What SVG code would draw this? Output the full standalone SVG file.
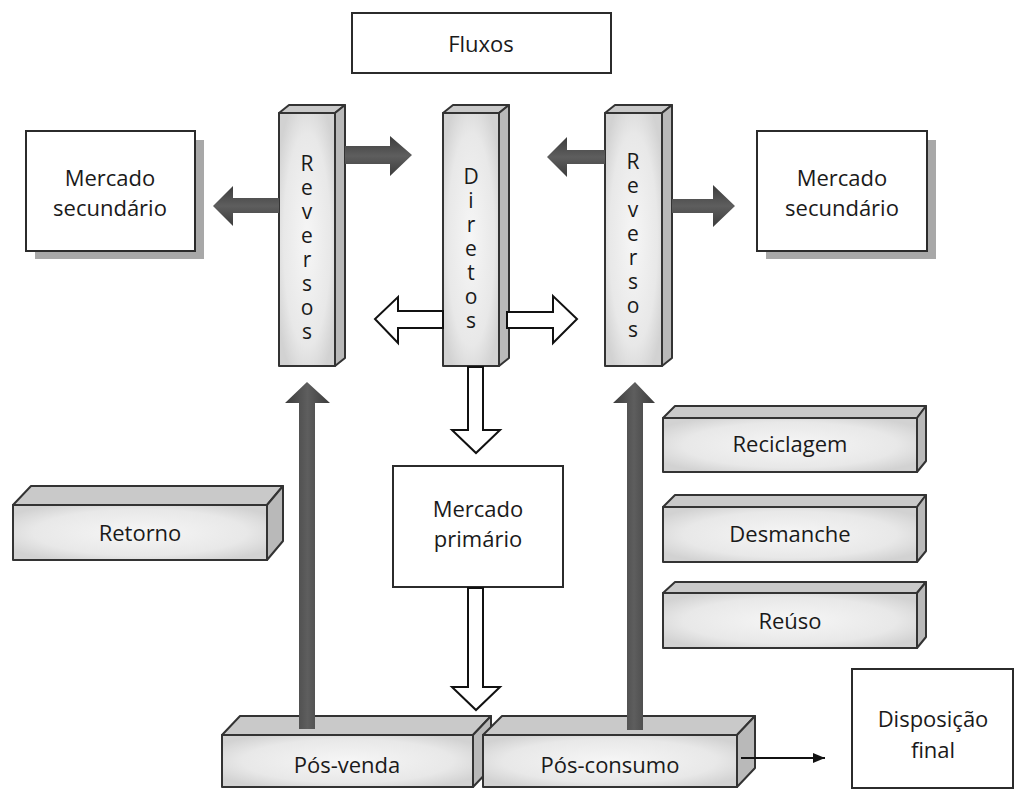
<svg xmlns="http://www.w3.org/2000/svg" width="1016" height="792" viewBox="0 0 1016 792">
<defs>
<radialGradient id="face" cx="0.5" cy="0.5" r="0.6">
<stop offset="0" stop-color="#f6f6f6"/>
<stop offset="0.7" stop-color="#e8e8e8"/>
<stop offset="1" stop-color="#d2d2d2"/>
</radialGradient>
<linearGradient id="darkH" x1="0" y1="0" x2="0" y2="1">
<stop offset="0" stop-color="#3c3c3c"/>
<stop offset="0.5" stop-color="#5e5e5e"/>
<stop offset="1" stop-color="#3c3c3c"/>
</linearGradient>
<linearGradient id="darkV" x1="0" y1="0" x2="1" y2="0">
<stop offset="0" stop-color="#3c3c3c"/>
<stop offset="0.5" stop-color="#5e5e5e"/>
<stop offset="1" stop-color="#3c3c3c"/>
</linearGradient>
<marker id="thin" viewBox="0 0 12 10" refX="12" refY="5" markerWidth="12" markerHeight="10" markerUnits="userSpaceOnUse" orient="auto">
<path d="M0,0 L12,5 L0,10 Z" fill="#111"/>
</marker>
</defs>
<style>
.box{fill:#fff;stroke:#2b2b2b;stroke-width:2}
.shadow{fill:#a8a8a8}
.front{fill:url(#face);stroke:#333;stroke-width:2;stroke-linejoin:round}
.top{fill:#c9c9c9;stroke:#333;stroke-width:2;stroke-linejoin:round}
.side{fill:#b9b9b9;stroke:#333;stroke-width:2;stroke-linejoin:round}
.t{font-family:"Open Sans","Noto Sans",sans-serif;font-size:22px;fill:#1a1a1a;text-anchor:middle}
.v{font-family:"Open Sans","Noto Sans",sans-serif;font-size:21px;fill:#1a1a1a;text-anchor:middle;writing-mode:vertical-rl;text-orientation:upright;letter-spacing:-4px}
.darkh{fill:url(#darkH)}
.darkv{fill:url(#darkV)}
.hollow{fill:#fff;stroke:#111;stroke-width:2;stroke-linejoin:miter}
</style>
<rect width="1016" height="792" fill="#fff"/>

<g id="fluxos">
<rect class="box" x="352" y="13" width="259" height="60"/>
<text class="t" x="481" y="52">Fluxos</text>
</g>

<g id="mercado-secundario-esq">
<rect class="shadow" x="35" y="140" width="169" height="119"/>
<rect class="box" x="26" y="131" width="169" height="120"/>
<text class="t" x="110" y="186">Mercado</text>
<text class="t" x="110" y="216">secundário</text>
</g>

<g id="mercado-secundario-dir">
<rect class="shadow" x="766" y="140" width="170" height="119"/>
<rect class="box" x="757" y="131" width="170" height="120"/>
<text class="t" x="842" y="186">Mercado</text>
<text class="t" x="842" y="216">secundário</text>
</g>

<g id="reversos-esq">
<polygon class="top" points="279,113 289,105 345,105 335,113"/>
<polygon class="side" points="335,113 345,105 345,358 335,366"/>
<rect class="front" x="279" y="113" width="56" height="253"/>
<text class="v" x="307" y="245">Reversos</text>
</g>

<g id="diretos">
<polygon class="top" points="443,113 453,105 509,105 499,113"/>
<polygon class="side" points="499,113 509,105 509,358 499,366"/>
<rect class="front" x="443" y="113" width="56" height="253"/>
<text class="v" x="471" y="246">Diretos</text>
</g>

<g id="reversos-dir">
<polygon class="top" points="605,113 615,105 672,105 662,113"/>
<polygon class="side" points="662,113 672,105 672,358 662,366"/>
<rect class="front" x="605" y="113" width="57" height="253"/>
<text class="v" x="633" y="243">Reversos</text>
</g>

<g id="mercado-primario">
<rect class="box" x="393" y="466" width="170" height="121"/>
<text class="t" x="478" y="517">Mercado</text>
<text class="t" x="478" y="547">primário</text>
</g>

<g id="retorno">
<polygon class="top" points="13,505 31,486 283,486 267,505"/>
<polygon class="side" points="267,505 283,486 283,541 267,560"/>
<rect class="front" x="13" y="505" width="254" height="55"/>
<text class="t" x="140" y="541">Retorno</text>
</g>

<g id="reciclagem">
<polygon class="top" points="663,418 675,406 926,406 917,418"/>
<polygon class="side" points="917,418 926,406 926,461 917,472"/>
<rect class="front" x="663" y="418" width="254" height="54"/>
<text class="t" x="790" y="452">Reciclagem</text>
</g>

<g id="desmanche">
<polygon class="top" points="663,507 675,495 926,495 917,507"/>
<polygon class="side" points="917,507 926,495 926,551 917,562"/>
<rect class="front" x="663" y="507" width="254" height="55"/>
<text class="t" x="790" y="542">Desmanche</text>
</g>

<g id="reuso">
<polygon class="top" points="663,593 675,582 926,582 917,593"/>
<polygon class="side" points="917,593 926,582 926,637 917,648"/>
<rect class="front" x="663" y="593" width="254" height="55"/>
<text class="t" x="790" y="629">Reúso</text>
</g>

<g id="pos-venda">
<polygon class="top" points="222,735 240,716 491,716 473,735"/>
<polygon class="side" points="473,735 491,716 491,768 473,787"/>
<rect class="front" x="222" y="735" width="251" height="52"/>
<text class="t" x="347" y="773">Pós-venda</text>
</g>

<g id="pos-consumo">
<polygon class="top" points="483,735 502,716 755,716 737,735"/>
<polygon class="side" points="737,735 755,716 755,768 737,787"/>
<rect class="front" x="483" y="735" width="254" height="52"/>
<text class="t" x="610" y="773">Pós-consumo</text>
</g>

<g id="disposicao-final">
<rect class="box" x="852" y="669" width="161" height="119"/>
<text class="t" x="933" y="727">Disposição</text>
<text class="t" x="933" y="758">final</text>
</g>

<g id="connectors">
<polygon class="darkh" points="279,198 233,198 233,186 213,206 233,226 233,213 279,213"/>
<polygon class="darkh" points="345,146 390,146 390,136 412,155 390,176 390,164 345,164"/>
<polygon class="darkh" points="605,150 567,150 567,137 547,157 567,177 567,164 605,164"/>
<polygon class="darkh" points="672,199 713,199 713,185 735,206 713,227 713,213 672,213"/>
<polygon class="darkv" points="299,729 299,403 285,403 307,382 330,403 315,403 315,729"/>
<polygon class="darkv" points="627,730 627,403 613,403 635,382 655,403 643,403 643,730"/>
<polygon class="hollow" points="443,311 398,311 398,297 375,319 398,343 398,328 443,328"/>
<polygon class="hollow" points="507,312 553,312 553,296 577,319 553,343 553,328 507,328"/>
<polygon class="hollow" points="468,367 468,430 452,430 476,453 500,430 483,430 483,367"/>
<polygon class="hollow" points="468,588 468,687 452,687 476,710 500,687 483,687 483,588"/>
<line x1="741" y1="758" x2="825" y2="758" stroke="#111" stroke-width="2" marker-end="url(#thin)"/>
</g>
</svg>
